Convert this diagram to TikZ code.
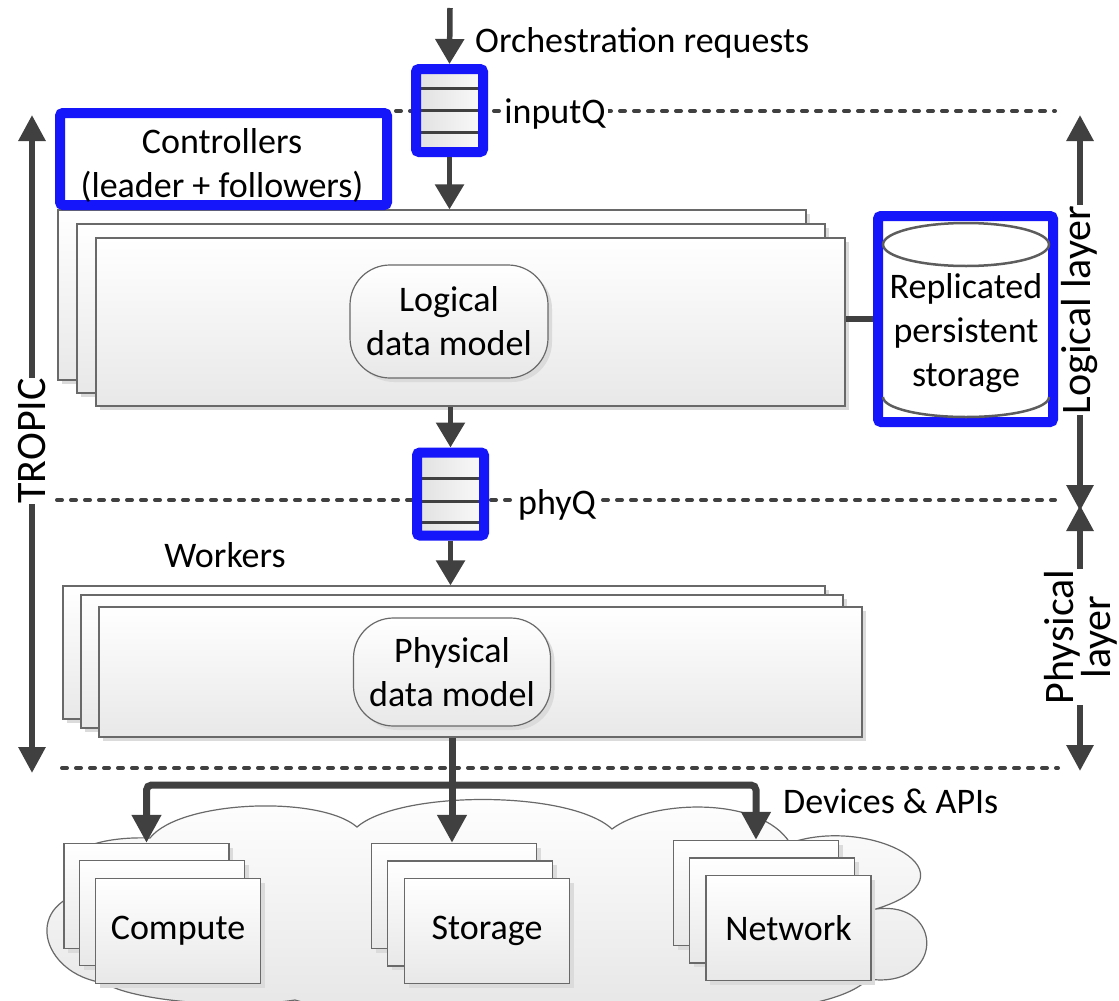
\documentclass[tikz,border=0pt]{standalone}
\usepackage{fontspec}
\setmainfont{Carlito}
\usetikzlibrary{arrows.meta,shadows,calc}
\definecolor{qblue}{RGB}{22,22,250}
\definecolor{ink}{RGB}{64,64,64}
\definecolor{frame}{RGB}{105,105,105}
\tikzset{
  shad/.style={general shadow={fill=black!14, shadow xshift=4pt, shadow yshift=-4pt}},
  pane/.style={draw=frame, line width=1.2pt, top color=white, bottom color=black!9, shad},
  model/.style={pane, rounded corners=40pt, align=center},
  dev/.style={pane, minimum width=165pt, minimum height=105pt},
  queue/.style={draw=qblue, line width=10pt, rounded corners=3pt, left color=black!12, right color=black!2,
    minimum width=67pt, minimum height=83pt,
    path picture={\foreach \d in {#1} \draw[ink, line width=3pt]
      ([yshift=\d pt]path picture bounding box.west) -- ([yshift=\d pt]path picture bounding box.east);}},
  bluebox/.style={draw=qblue, line width=10pt, rounded corners=3pt, fill=white},
  sep/.style={draw=ink, line width=4pt, dash pattern=on 5pt off 9pt, line cap=round},
  flow/.style={draw=ink, line width=5.5pt, -{Triangle[width=28pt,length=25pt]}},
  side/.style={draw=ink, line width=6pt, {Triangle[width=26pt,length=26pt]}-{Triangle[width=26pt,length=26pt]}},
  sidelbl/.style={fill=white, inner sep=0.5pt, font=\fontsize{42}{50}\selectfont},
  qlabel/.style={fill=white, inner sep=2pt},
  link/.style={draw=ink, line width=6pt},
  bus/.style={draw=ink, line width=7pt, rounded corners=5pt},
  bustip/.style={-{Triangle[width=28pt,length=28pt]}},
  cyl/.style={draw=ink!85, line width=2.5pt},
  cloudst/.style={draw=frame, line width=1.2pt, top color=white, bottom color=black!10}
}
\begin{document}
\begin{tikzpicture}[x=1pt,y=-1pt, font=\fontsize{36}{44}\selectfont]
\fill[white] (0,0) rectangle (1119,1001);
\useasboundingbox (0,0) rectangle (1119,1001);

% separator lines
\coordinate (s1a) at (60,111);  \coordinate (s1b) at (1055,111);
\coordinate (s2a) at (57,500);  \coordinate (s2b) at (1055,500);
\coordinate (s3a) at (62,768);  \coordinate (s3b) at (1058,768);
\draw[sep] (s1a) -- (s1b);
\draw[sep] (s2a) -- (s2b);
\draw[sep] (s3a) -- (s3b);

% side arrows
\coordinate (tt) at (32,115); \coordinate (tb) at (32,773);
\draw[side] (tt) -- (tb);
\node[sidelbl, rotate=90] (tropic) at (32,441) {TROPIC};
\coordinate (lt) at (1080,115); \coordinate (lb) at (1080,511);
\draw[side] (lt) -- (lb);
\node[sidelbl, rotate=90] (loglbl) at (1080,310) {Logical layer};
\coordinate (pt) at (1080,505); \coordinate (pb) at (1080,771);
\draw[side] (pt) -- (pb);
\node[sidelbl, rotate=90, align=center, font=\fontsize{42}{32}\selectfont] (phylbl) at (1081,637) {Physical\\layer};

% top input
\coordinate (src) at (450,8);
\node[anchor=west, inner sep=0pt] (orch) at (475,43) {Orchestration requests};
\node[queue={22,0,-22}] (inQ) at (449.5,110.5) {};
\node[qlabel] (inlbl) at (555,114) {inputQ};

% logical layer stack
\node[pane, minimum width=748pt, minimum height=170pt] (L1) at (432,295) {};
\node[pane, minimum width=748pt, minimum height=169pt] (L2) at (451,308.5) {};
\node[pane, minimum width=749pt, minimum height=168pt] (L3) at (470.5,322) {};
\node[model, minimum width=198pt, minimum height=113pt] (ldm) at (449,321.5) {Logical\\data model};

\node[bluebox, minimum width=327pt, minimum height=92pt] (ctrl) at (223.5,159) {};
\node[align=center] (ctrltxt) at (222,165) {Controllers\\(leader + followers)};

% storage
\node[bluebox, minimum width=175pt, minimum height=206pt] (store) at (965.5,319) {};
\draw[cyl] ($(store.center)+(0.5,-74.5)$) ellipse [x radius=83pt, y radius=21.5pt];
\draw[cyl] ($(store.center)+(-82.5,78)$) arc[start angle=180, end angle=360, x radius=83pt, y radius=20pt];
\node[align=center] (storetxt) at (966,333) {Replicated\\persistent\\storage};

% physical queue
\node[queue={16,-7,-28}, shad] (phyQ) at (450.5,494) {};
\node[qlabel] (phylbl2) at (557,505) {phyQ};

\node (workers) at (225,555) {Workers};

% physical stack
\node[pane, minimum width=762pt, minimum height=133pt] (P1) at (444,652.5) {};
\node[pane, minimum width=762pt, minimum height=133pt] (P2) at (462,661.5) {};
\node[pane, minimum width=763pt, minimum height=130pt] (P3) at (480.5,672) {};
\node[model, minimum width=197pt, minimum height=108pt] (pdm) at (452,672) {Physical\\data model};

% cloud
\path[cloudst] (150,838) .. controls (180,800) and (320,795) .. (357,827)
  .. controls (400,790) and (570,790) .. (612,829)
  .. controls (650,800) and (760,795) .. (790,843)
  .. controls (870,815) and (985,875) .. (876,909)
  .. controls (945,900) and (945,990) .. (868,979)
  .. controls (830,1020) and (640,1020) .. (580,1004)
  .. controls (520,1017) and (350,1017) .. (295,1000)
  .. controls (230,1010) and (130,1000) .. (105,983)
  .. controls (40,975) and (20,900) .. (95,890)
  .. controls (40,880) and (60,835) .. (150,838) -- cycle;

% device stacks
\node[dev] (C1) at (146.5,896) {};
\node[dev] (C2) at (162,913) {};
\node[dev] (C3) at (178,931) {Compute};
\node[dev] (S1) at (454,896) {};
\node[dev] (S2) at (470,913.5) {};
\node[dev] (S3) at (487,931) {Storage};
\node[dev] (N1) at (756,893) {};
\node[dev] (N2) at (772,910.5) {};
\node[dev] (N3) at (788.5,928) {Network};

\node[anchor=west, inner sep=0pt] (devapi) at (783,801) {Devices \& APIs};

% connectors
\draw[flow] (src) -- (inQ.north);
\draw[flow] (inQ.south) -- (inQ.south |- L1.north);
\draw[flow] (phyQ.north |- L3.south) -- (phyQ.north);
\draw[flow] (phyQ.south) -- (phyQ.south |- P1.north);
\draw[link] (store.west -| L3.east) -- (store.west);

\coordinate (j) at (452,785);
\draw[bus, {Triangle[width=28pt,length=28pt]}-{Triangle[width=28pt,length=28pt]}] (C1.north) |- (j) -| (N1.north);
\draw[bus, bustip] (P3.south -| j) -- (j |- S1.north);
\end{tikzpicture}
\end{document}
